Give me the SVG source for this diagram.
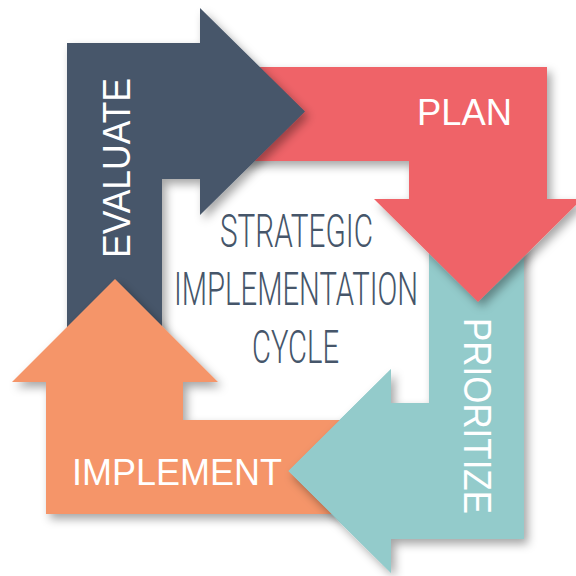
<svg xmlns="http://www.w3.org/2000/svg" xmlns:xlink="http://www.w3.org/1999/xlink" width="576" height="576" viewBox="0 0 576 576">
  <style>
    .label { font-family: "Liberation Sans", Arial, sans-serif; fill: #ffffff; text-anchor: middle; }
    .title { font-family: Roboto, "Liberation Sans Narrow", "Liberation Sans", Arial, sans-serif; font-weight: 300; fill: #46566a; text-anchor: middle; font-size: 46px; }
  </style>
  <defs>
    <filter id="drop" x="-20%" y="-20%" width="140%" height="140%">
      <feGaussianBlur in="SourceAlpha" stdDeviation="5"/>
      <feOffset dx="4" dy="5" result="blur"/>
      <feFlood flood-color="#000" flood-opacity="0.35"/>
      <feComposite in2="blur" operator="in"/>
      <feMerge><feMergeNode/><feMergeNode in="SourceGraphic"/></feMerge>
    </filter>
    <filter id="shadowOnly" x="-20%" y="-20%" width="140%" height="140%">
      <feGaussianBlur in="SourceAlpha" stdDeviation="5"/>
      <feOffset dx="4" dy="5" result="blur"/>
      <feFlood flood-color="#000" flood-opacity="0.35"/>
      <feComposite in2="blur" operator="in"/>
    </filter>
    <!-- arrow outlines -->
    <path id="evaluateShape" d="M67,43 L200,43 L200,8 L305,111.5 L200,215 L200,179 L162,179 L162,360 L67,360 Z"/>
    <path id="planShape" d="M220,67 L547,67 L547,199 L582,199 L478,302 L374,199 L409,199 L409,161 L220,161 Z"/>
    <path id="prioritizeShape" d="M429,230 L524,230 L524,539 L391,539 L391,573 L288,471 L391,369 L391,403 L429,403 Z"/>
    <path id="implementShape" d="M46,514 L46,382 L12,382 L115,279 L218,382 L183,382 L183,420 L360,420 L360,514 Z"/>
    <clipPath id="implementTailClip"><rect x="183" y="420" width="177" height="94"/></clipPath>
    <clipPath id="prioritizeHeadClip"><path d="M391,369 L288,471 L391,573 Z"/></clipPath>
  </defs>

  <rect width="576" height="576" fill="#ffffff"/>

  <g id="prioritize">
    <use xlink:href="#prioritizeShape" fill="#93cbcb" filter="url(#drop)"/>
  </g>
  <g id="plan">
    <use xlink:href="#planShape" fill="#ef6467" filter="url(#drop)"/>
  </g>
  <g id="evaluate">
    <use xlink:href="#evaluateShape" fill="#46566a" filter="url(#drop)"/>
  </g>
  <g id="implement">
    <use xlink:href="#implementShape" fill="#f59569" filter="url(#drop)"/>
  </g>
  <!-- prioritize arrowhead laid back over the implement tail -->
  <g id="prioritize-head">
    <use xlink:href="#prioritizeShape" filter="url(#shadowOnly)" clip-path="url(#implementTailClip)"/>
    <use xlink:href="#prioritizeShape" fill="#93cbcb" clip-path="url(#prioritizeHeadClip)"/>
  </g>

  <g id="labels">
    <text class="label" transform="translate(130,168) rotate(-90)" font-size="38" textLength="180" lengthAdjust="spacingAndGlyphs">EVALUATE</text>
    <text class="label" x="464.5" y="125" font-size="37" textLength="95" lengthAdjust="spacingAndGlyphs">PLAN</text>
    <text class="label" transform="translate(464,416) rotate(90)" font-size="39" textLength="196" lengthAdjust="spacingAndGlyphs">PRIORITIZE</text>
    <text class="label" x="177" y="485" font-size="37" textLength="210" lengthAdjust="spacingAndGlyphs">IMPLEMENT</text>
  </g>

  <g id="title">
    <text class="title" x="296.5" y="247" textLength="153" lengthAdjust="spacingAndGlyphs">STRATEGIC</text>
    <text class="title" x="296" y="305" textLength="244" lengthAdjust="spacingAndGlyphs">IMPLEMENTATION</text>
    <text class="title" x="295.5" y="363" textLength="87" lengthAdjust="spacingAndGlyphs">CYCLE</text>
  </g>
</svg>
